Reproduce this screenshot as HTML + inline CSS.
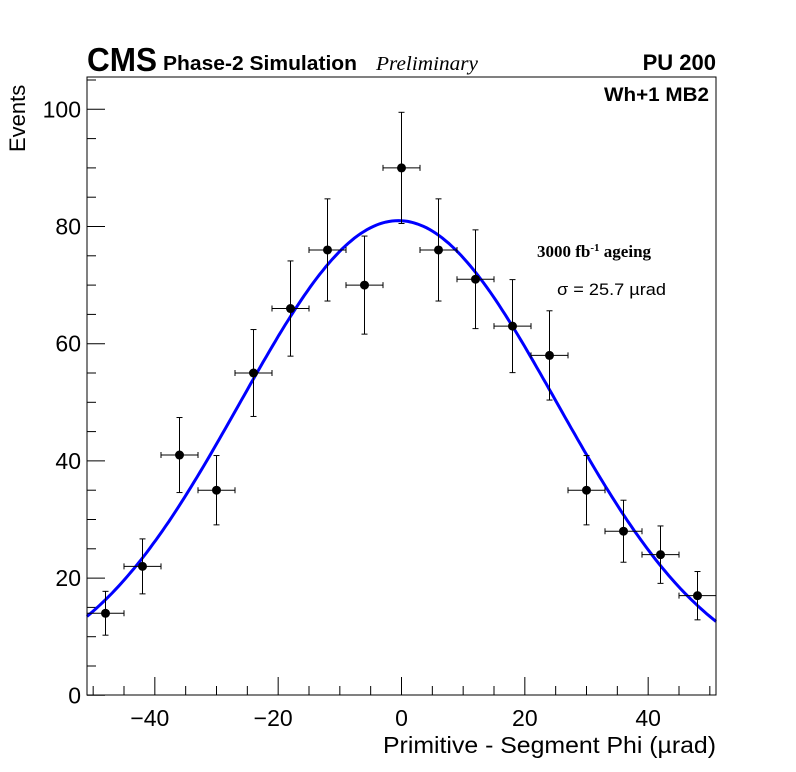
<!DOCTYPE html>
<html><head><meta charset="utf-8"><style>
body{margin:0;background:#fff;}
svg{display:block;font-family:"Liberation Sans",sans-serif;}
</style></head><body>
<svg id="chart" width="796" height="772" viewBox="0 0 796 772">
<text x="87" y="71" font-size="33" font-weight="bold" textLength="70" lengthAdjust="spacingAndGlyphs">CMS</text>
<text x="163" y="70" font-size="20" font-weight="bold" textLength="194" lengthAdjust="spacingAndGlyphs">Phase-2 Simulation</text>
<text x="376" y="70" font-size="20" font-style="italic" font-family="Liberation Serif,serif" textLength="102" lengthAdjust="spacingAndGlyphs">Preliminary</text>
<text x="716" y="70" font-size="22" font-weight="bold" text-anchor="end">PU 200</text>
<text x="709" y="101" font-size="19" font-weight="bold" text-anchor="end" textLength="105" lengthAdjust="spacingAndGlyphs">Wh+1 MB2</text>
<text x="537" y="257" font-size="17" font-weight="bold" font-family="Liberation Serif,serif">3000 fb<tspan dy="-6" font-size="11">-1</tspan><tspan dy="6"> ageing</tspan></text>
<text x="557" y="295" font-size="17" textLength="109" lengthAdjust="spacingAndGlyphs">σ = 25.7 µrad</text>
<text x="716" y="753" font-size="23" text-anchor="end" textLength="333" lengthAdjust="spacingAndGlyphs">Primitive - Segment Phi (µrad)</text>
<text transform="translate(25,152) rotate(-90)" font-size="22" text-anchor="start">Events</text>
<g id="axes"></g><g id="marks"></g>
<rect x="87" y="77" width="629" height="618" fill="none" stroke="#000" stroke-width="1"/>
</svg>
<script>
const binCenters=[-48,-42,-36,-30,-24,-18,-12,-6,0,6,12,18,24,30,36,42,48];
const counts=[14,22,41,35,55,66,76,70,90,76,71,63,58,35,28,24,17];
const xTicks=[-40,-20,0,20,40];
const yTicks=[0,20,40,60,80,100];
const fitSigma=25.7, fitMean=-0.5, fitAmp=79, fitConst=2;
const NS="http://www.w3.org/2000/svg";
const X0=87,X1=716,Y0=695,Y1=77,xmin=-51,xmax=51;
const sx=v=>X0+(v-xmin)/(xmax-xmin)*(X1-X0);
const sy=v=>695.3-v*5.86;
function mk(t,a,p){const e=document.createElementNS(NS,t);for(const k in a)e.setAttribute(k,a[k]);p.appendChild(e);return e;}
const ax=document.getElementById('axes'),mg=document.getElementById('marks');
for(let v=-50;v<=50;v+=5){const maj=v%20===0;
 const t=mk('line',{x1:sx(v),x2:sx(v),y1:Y0,y2:Y0-(maj?18:9),stroke:'#000'},ax);
 
 }
for(let v=0;v<=105;v+=5){const maj=v%20===0;
 const t=mk('line',{x1:X0,x2:X0+(maj?18:9),y1:sy(v),y2:sy(v),stroke:'#000'},ax);
 
 }
xTicks.forEach(v=>{const t=mk('text',{x:sx(v)-(v<0?5:0),y:726,'font-size':23,'text-anchor':'middle'},ax);t.textContent=v<0?'−'+(-v):String(v);
 
 });
yTicks.forEach(v=>{const t=mk('text',{x:81,y:sy(v)+8,'font-size':23,'text-anchor':'end'},ax);t.textContent=String(v);
 
 });
let d='';for(let i=0;i<=200;i++){const v=xmin+(xmax-xmin)*i/200;const f=fitConst+fitAmp*Math.exp(-0.5*((v-fitMean)/fitSigma)**2);d+=(i?'L':'M')+sx(v).toFixed(1)+','+sy(f).toFixed(1);}
const c=mk('path',{d:d,fill:'none',stroke:'#0000ff','stroke-width':3},mg);


binCenters.forEach((b,i)=>{const n=counts[i],e=Math.sqrt(n);
 const g=mk('g',{},mg);
 
 
 const cx=sx(b),cy=sy(n);
 mk('line',{x1:sx(b-3),x2:Math.min(sx(b+3),X1),y1:cy,y2:cy,stroke:'#000'},g);
 mk('line',{x1:cx,x2:cx,y1:sy(n-e),y2:sy(n+e),stroke:'#000'},g);
 [sy(n-e),sy(n+e)].forEach(y=>mk('line',{x1:cx-3,x2:cx+3,y1:y,y2:y,stroke:'#000'},g));
 [sx(b-3),sx(b+3)].forEach(x=>{if(x<X1)mk('line',{x1:x,x2:x,y1:cy-3,y2:cy+3,stroke:'#000'},g);});
 mk('circle',{cx:cx,cy:cy,r:4.5,fill:'#000'},g);
});
</script>
</body></html>
